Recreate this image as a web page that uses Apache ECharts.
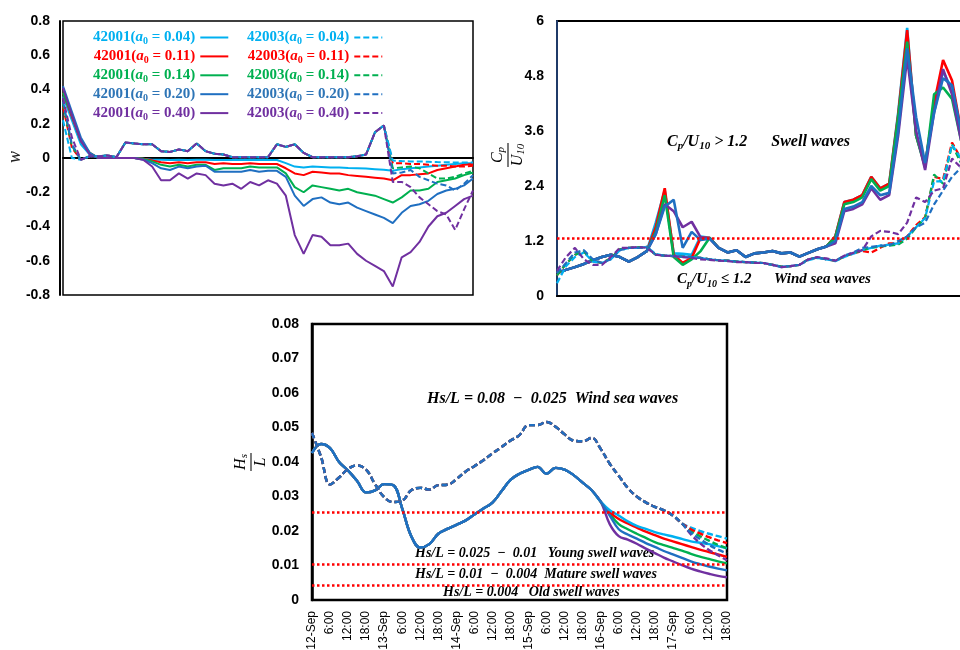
<!DOCTYPE html>
<html><head><meta charset="utf-8">
<script src="https://cdn.jsdelivr.net/npm/echarts@6/dist/echarts.min.js"></script>
<style>html,body{margin:0;padding:0;background:#fff}#c{width:960px;height:650px}</style>
</head><body><div id="c"></div>
<script>
// ---------- categories (3-hourly, 12-Sep 0:00 .. 17-Sep 18:00) ----------
const days = ['12-Sep','13-Sep','14-Sep','15-Sep','16-Sep','17-Sep'];
const hourTicks = ['3:00','6:00','9:00','12:00','15:00','18:00','21:00'];
const cats = [];
days.forEach((d, i) => { cats.push(d); (i < days.length - 1 ? hourTicks : hourTicks.slice(0, 6)).forEach(h => cats.push(h)); });

const alphas = ['0.04','0.11','0.14','0.20','0.40'];
const lineColors = ['#00B0F0','#FF0000','#00B050','#1F6FC1','#7030A0'];
const textColors = ['#00B0F0','#FF0000','#00B050','#2E75B6','#7030A0'];

// ---------- Panel A : w ----------
const wSolid004 = [0.36,0.22,0.08,0.02,0,0,0,0,0,-0.005,-0.01,-0.01,-0.012,-0.01,-0.012,-0.01,-0.01,-0.012,-0.012,-0.012,-0.012,-0.01,-0.012,-0.012,-0.012,-0.03,-0.05,-0.055,-0.05,-0.052,-0.055,-0.055,-0.058,-0.06,-0.062,-0.065,-0.068,-0.075,-0.065,-0.06,-0.055,-0.05,-0.045,-0.04,-0.035,-0.03,-0.03];
const wSolid011 = [0.38,0.24,0.10,0.03,0,0,0,0,0,-0.005,-0.015,-0.025,-0.03,-0.025,-0.03,-0.025,-0.025,-0.035,-0.03,-0.035,-0.035,-0.03,-0.035,-0.035,-0.035,-0.06,-0.09,-0.10,-0.08,-0.085,-0.09,-0.09,-0.10,-0.105,-0.11,-0.115,-0.12,-0.13,-0.10,-0.10,-0.095,-0.09,-0.07,-0.06,-0.05,-0.04,-0.035];
const wSolid014 = [0.38,0.25,0.10,0.03,0,0,0,0,0,-0.005,-0.02,-0.04,-0.05,-0.04,-0.05,-0.04,-0.04,-0.07,-0.06,-0.06,-0.06,-0.05,-0.055,-0.055,-0.055,-0.09,-0.17,-0.20,-0.16,-0.17,-0.18,-0.19,-0.18,-0.20,-0.21,-0.22,-0.24,-0.26,-0.23,-0.19,-0.19,-0.18,-0.14,-0.13,-0.12,-0.10,-0.085];
const wSolid020 = [0.42,0.27,0.12,0.03,0,0,0,0,0,-0.01,-0.03,-0.06,-0.07,-0.05,-0.06,-0.05,-0.045,-0.08,-0.08,-0.08,-0.08,-0.07,-0.08,-0.075,-0.075,-0.11,-0.22,-0.28,-0.24,-0.23,-0.26,-0.27,-0.26,-0.29,-0.31,-0.33,-0.35,-0.38,-0.32,-0.28,-0.27,-0.25,-0.21,-0.19,-0.18,-0.16,-0.12];
const wSolid040 = [0.41,0.25,0.10,0.02,0,0,0,0,0,-0.01,-0.05,-0.13,-0.13,-0.09,-0.12,-0.09,-0.10,-0.15,-0.16,-0.15,-0.18,-0.14,-0.16,-0.13,-0.15,-0.22,-0.45,-0.56,-0.45,-0.46,-0.51,-0.51,-0.50,-0.56,-0.60,-0.63,-0.66,-0.75,-0.58,-0.55,-0.49,-0.40,-0.34,-0.32,-0.28,-0.24,-0.22];
const wDashShared = [-0.01,0.01,0.01,0.015,0.005,0.09,0.085,0.08,0.08,0.04,0.035,0.05,0.04,0.085,0.04,0.025,0.02,0.005,0.005,0.005,0.005,0.005,0.08,0.065,0.08,0.03,0.005,0.005,0.005,0.005,0.005,0.01,0.02,0.15,0.19];
const wDash004 = [0.22,0.0,...wDashShared,-0.015,-0.018,-0.02,-0.02,-0.022,-0.024,-0.025,-0.026,-0.027,-0.027];
const wDash011 = [0.30,0.06,...wDashShared,-0.03,-0.03,-0.035,-0.035,-0.04,-0.045,-0.045,-0.05,-0.05,-0.045];
const wDash014 = [0.32,0.07,...wDashShared,-0.06,-0.055,-0.05,-0.06,-0.09,-0.12,-0.12,-0.11,-0.09,-0.075];
const wDash020 = [0.33,0.08,...wDashShared,-0.09,-0.085,-0.07,-0.11,-0.13,-0.15,-0.16,-0.19,-0.15,-0.10];
const wDash040 = [0.35,0.12,...wDashShared,-0.14,-0.14,-0.17,-0.23,-0.27,-0.31,-0.33,-0.42,-0.30,-0.19];

// ---------- Panel B : Cp/U10 ----------
const cpHead = [0.5,0.57,0.63,0.70,0.78,0.85,0.90,0.85,0.75,0.85,0.98];
const cpMid = [1.05,0.95,1.0,0.85,0.93,0.95,0.98,0.93,0.95,0.86,0.94,1.02,1.08];
const cpSolid004 = [...cpHead,1.6,2.3,0.93,0.92,0.9,1.3,1.27,...cpMid,1.3,2.05,2.1,2.2,2.6,2.35,2.45,4.0,5.85,3.5,2.85,4.1,4.9,4.5,3.5,3.0];
const cpSolid011 = [...cpHead,1.5,2.35,0.9,0.72,0.83,1.27,1.27,...cpMid,1.3,2.05,2.1,2.2,2.6,2.35,2.45,3.95,5.8,3.5,2.85,4.2,5.15,4.7,3.6,3.1];
const cpSolid014 = [...cpHead,1.4,2.2,0.85,0.68,0.8,0.98,1.27,...cpMid,1.28,2.0,2.05,2.15,2.55,2.3,2.4,3.9,5.55,3.5,2.8,4.4,4.55,4.3,3.4,2.9];
const cpSolid020 = [...cpHead,1.35,1.95,2.1,1.05,1.4,1.22,1.25,...cpMid,1.2,1.9,1.95,2.05,2.4,2.2,2.25,3.6,5.4,3.9,2.9,4.0,4.75,4.6,3.6,3.0];
const cpSolid040 = [...cpHead,1.35,2.0,1.85,1.5,1.62,1.28,1.25,...cpMid,1.15,1.85,1.9,2.0,2.35,2.1,2.2,3.5,5.2,3.6,2.75,4.0,4.95,4.4,3.4,2.9];
const cpDash004 = [0.28,0.65,0.85,0.95,0.75,0.72,0.8,1.0,1.05,1.05,1.07,0.92,0.88,0.87,0.86,0.85,0.83,0.8,0.78,0.77,0.75,0.74,0.73,0.72,0.68,0.64,0.65,0.68,0.78,0.83,0.8,0.76,0.85,0.92,1.0,1.05,1.1,1.12,1.15,1.3,1.5,1.7,2.5,2.5,3.3,3.0,2.9];
const cpDash011 = [0.45,0.7,0.9,0.97,0.76,0.72,0.82,1.02,1.05,1.06,1.07,0.9,0.88,0.87,0.86,0.85,0.83,0.8,0.78,0.77,0.75,0.74,0.73,0.72,0.68,0.64,0.65,0.68,0.8,0.84,0.8,0.77,0.86,0.93,0.98,0.95,1.05,1.15,1.15,1.3,1.55,1.72,2.6,2.55,3.35,3.0,2.9];
const cpDash014 = [0.45,0.7,0.9,0.97,0.76,0.72,0.82,1.02,1.05,1.06,1.07,0.9,0.88,0.87,0.86,0.85,0.83,0.8,0.78,0.77,0.75,0.74,0.73,0.72,0.68,0.64,0.65,0.68,0.8,0.84,0.8,0.77,0.86,0.93,1.0,1.05,1.08,1.1,1.12,1.25,1.5,1.7,2.65,2.45,3.3,2.9,2.8];
const cpDash020 = [0.5,0.72,0.95,1.0,0.8,0.72,0.8,1.0,1.05,1.05,1.06,0.9,0.88,0.87,0.86,0.85,0.83,0.8,0.78,0.77,0.75,0.74,0.73,0.72,0.68,0.63,0.65,0.68,0.8,0.84,0.8,0.77,0.88,0.95,1.05,1.07,1.1,1.1,1.2,1.3,1.5,1.6,2.0,2.3,2.6,2.8,2.9];
const cpDash040 = [0.55,0.85,1.05,0.8,0.68,0.68,0.85,1.05,1.05,1.07,1.05,0.9,0.88,0.87,0.85,0.83,0.8,0.79,0.77,0.76,0.74,0.74,0.72,0.72,0.68,0.63,0.65,0.68,0.8,0.85,0.82,0.77,0.88,0.94,1.0,1.3,1.42,1.4,1.35,1.6,2.15,2.05,2.3,2.35,3.0,2.8,2.7];
const cpThreshold = 1.25;

// ---------- Panel C : Hs/L ----------
const hsSolidShared = [0.0426,0.0452,0.0440,0.0400,0.0375,0.0345,0.0312,0.0318,0.0336,0.0333,0.0265,0.0185,0.0152,0.0162,0.0192,0.0206,0.0218,0.0230,0.0248,0.0265,0.0282,0.0315,0.0348,0.0366,0.0377,0.0386,0.0366,0.0383,0.0378,0.0362,0.0340,0.0318,0.0285];
const hsSolid004 = [...hsSolidShared,0.0260,0.0245,0.0228,0.0215,0.0206,0.0197,0.0190,0.0184,0.0177,0.0170,0.0166,0.0162,0.0156,0.0150];
const hsSolid011 = [...hsSolidShared,0.0255,0.0235,0.0222,0.0210,0.0198,0.0188,0.0178,0.0170,0.0162,0.0154,0.0146,0.0139,0.0132,0.0125];
const hsSolid014 = [...hsSolidShared,0.0250,0.0220,0.0205,0.0192,0.0180,0.0168,0.0159,0.0151,0.0143,0.0134,0.0126,0.0119,0.0112,0.0106];
const hsSolid020 = [...hsSolidShared,0.0245,0.0205,0.0190,0.0178,0.0165,0.0154,0.0142,0.0132,0.0122,0.0112,0.0104,0.0097,0.0091,0.0086];
const hsSolid040 = [...hsSolidShared,0.0220,0.0185,0.0175,0.0163,0.0149,0.0136,0.0123,0.0112,0.0101,0.0091,0.0083,0.0076,0.0070,0.0066];
const hsDashShared = [0.0484,0.0415,0.0335,0.0355,0.0380,0.0390,0.0378,0.0335,0.0298,0.0284,0.0288,0.0318,0.0325,0.0320,0.0333,0.0334,0.0350,0.0372,0.0388,0.0405,0.0425,0.0443,0.0462,0.0478,0.0507,0.0507,0.0516,0.0502,0.0480,0.0462,0.0460,0.0470,0.0438,0.0395,0.0360,0.0325,0.0300,0.0283,0.0270,0.0260,0.0245,0.0222];
const hsDash004 = [...hsDashShared,0.0210,0.0200,0.0192,0.0185,0.0178];
const hsDash011 = [...hsDashShared,0.0205,0.0193,0.0182,0.0173,0.0165];
const hsDash014 = [...hsDashShared,0.0200,0.0185,0.0172,0.0160,0.0150];
const hsDash020 = [...hsDashShared,0.0195,0.0177,0.0160,0.0146,0.0135];
const hsDash040 = [...hsDashShared,0.0190,0.0165,0.0145,0.0130,0.0115];
const hsThresholds = [0.0255, 0.0104, 0.0043];

// ---------- build ----------
const nameOf = (st, k) => st + '(a0 = ' + alphas[k] + ')';
const SERIF = '"Liberation Serif","DejaVu Serif",serif';
const SANS = '"Liberation Sans",Arial,sans-serif';
const NAVY = '#1F3864';
const series = [];
function addLine(st, k, data, gi, width, dashed, smooth, extra) {
  series.push(Object.assign({
    type: 'line', name: nameOf(st, k), xAxisIndex: gi, yAxisIndex: gi, data: data,
    symbol: 'none', smooth: smooth, animation: false, silent: true,
    lineStyle: { color: lineColors[k], width: width, type: dashed ? [6, 3] : 'solid' },
    itemStyle: { color: lineColors[k] }
  }, extra || {}));
}
const wS = [wSolid004, wSolid011, wSolid014, wSolid020, wSolid040];
const wD = [wDash004, wDash011, wDash014, wDash020, wDash040];
const cS = [cpSolid004, cpSolid011, cpSolid014, cpSolid020, cpSolid040];
const cD = [cpDash004, cpDash011, cpDash014, cpDash020, cpDash040];
const hS = [hsSolid004, hsSolid011, hsSolid014, hsSolid020, hsSolid040];
const hD = [hsDash004, hsDash011, hsDash014, hsDash020, hsDash040];

const redDots = { color: '#FF0000', type: [2.5, 2.5], width: 2.5 };
const mkLine = (vals) => ({ silent: true, symbol: 'none', precision: 6, label: { show: false }, lineStyle: redDots,
  emphasis: { disabled: true }, data: vals.map(v => ({ yAxis: v })) });

// Panel A
[0,1,2,3,4].forEach(k => addLine('42001', k, wS[k], 0, 2, false, false));
[1,2,3,0,4].forEach(k => addLine('42003', k, wD[k], 0, 2, true, false));
// Panel B
[0,1,2,4,3].forEach((k, i) => addLine('42001', k, cS[k], 1, 2.6, false, false, i === 0 ? { markLine: mkLine([cpThreshold]) } : null));
[1,2,0,3,4].forEach(k => addLine('42003', k, cD[k], 1, 2.2, true, false));
// Panel C
[4,2,1,0,3].forEach((k, i) => addLine('42001', k, hS[k], 2, 2.4, false, 0.4, i === 0 ? { markLine: mkLine(hsThresholds) } : null));
[4,2,0,1,3].forEach(k => addLine('42003', k, hD[k], 2, 2.4, true, 0.4));

function legendData(st) {
  return [0,1,2,3,4].map(k => ({ name: nameOf(st, k), textStyle: { color: textColors[k] } }));
}
const legendRich = {
  t: { fontFamily: SERIF, fontWeight: 'bold', fontSize: 15, lineHeight: 18 },
  a: { fontFamily: SERIF, fontWeight: 'bold', fontStyle: 'italic', fontSize: 15, lineHeight: 18 },
  z: { fontFamily: SERIF, fontWeight: 'bold', fontSize: 10, lineHeight: 11, verticalAlign: 'bottom' }
};
const legendFmt = n => { const p = n.split('a0'); return '{t|' + p[0] + '}{a|a}{z|0}{t|' + p[1] + '}'; };
function legendCfg(st, left) {
  return { orient: 'vertical', left: left, top: 30, padding: 0, align: 'right', itemWidth: 28, itemHeight: 14, itemGap: 2.4,
    selectedMode: false, data: legendData(st), formatter: legendFmt,
    itemStyle: { opacity: 0, color: 'rgba(0,0,0,0)', borderWidth: 0 },
    textStyle: { fontFamily: SERIF, fontWeight: 'bold', fontSize: 15, rich: legendRich } };
}

const yLab = (w) => ({ color: '#000', fontFamily: SANS, fontWeight: w, fontSize: 14 });
const hiddenX = (gi) => ({ type: 'category', gridIndex: gi, data: cats, boundaryGap: false,
  axisLabel: { show: false }, axisTick: { show: false }, axisLine: { show: true, lineStyle: { color: '#000', width: 2 } }, splitLine: { show: false } });

const annRich = (size) => ({
  m: { fontFamily: SERIF, fontWeight: 'bold', fontStyle: 'italic', fontSize: size, color: NAVY, lineHeight: 20 },
  s: { fontFamily: SERIF, fontWeight: 'bold', fontStyle: 'italic', fontSize: Math.round(size * 0.68), color: NAVY, lineHeight: 12, verticalAlign: 'bottom' }
});
function ann(x, y, text, size) {
  return { type: 'text', x: x, y: y, silent: true, style: { text: text, align: 'left', verticalAlign: 'middle', rich: annRich(size) } };
}
const fracRich = {
  m: { fontFamily: SERIF, fontStyle: 'italic', fontSize: 16, color: '#222', lineHeight: 18 },
  s: { fontFamily: SERIF, fontStyle: 'italic', fontSize: 11, color: '#222', lineHeight: 10, verticalAlign: 'bottom' }
};
function frac(cx, cy, num, den, len) {
  return { type: 'group', x: cx, y: cy, rotation: Math.PI / 2, silent: true, children: [
    { type: 'text', x: 0, y: -1, style: { text: num, align: 'center', verticalAlign: 'bottom', rich: fracRich } },
    { type: 'line', shape: { x1: -len / 2, y1: 0, x2: len / 2, y2: 0 }, style: { stroke: '#222', lineWidth: 1.2 } },
    { type: 'text', x: 0, y: 1, style: { text: den, align: 'center', verticalAlign: 'top', rich: fracRich } }
  ] };
}

const gridBase = { show: true, borderColor: '#000', backgroundColor: 'transparent', containLabel: false, outerBoundsMode: 'none' };
const option = {
  backgroundColor: '#fff',
  animation: false,
  grid: [
    Object.assign({ left: 63, top: 21, width: 410, height: 274, borderWidth: 1.5 }, gridBase),
    Object.assign({ left: 557, top: 21, width: 413, height: 275, borderWidth: 2 }, gridBase),
    Object.assign({ left: 312, top: 324, width: 415, height: 276, borderWidth: 2.5 }, gridBase)
  ],
  xAxis: [
    hiddenX(0), hiddenX(1),
    { type: 'category', gridIndex: 2, data: cats, boundaryGap: false,
      axisLabel: { interval: 1, rotate: 90, color: '#000', fontFamily: SANS, fontSize: 12, margin: 11 },
      axisTick: { show: false }, axisLine: { show: true, lineStyle: { color: '#000', width: 2 } }, splitLine: { show: false } }
  ],
  yAxis: [
    { type: 'value', gridIndex: 0, min: -0.8, max: 0.8, interval: 0.2, offset: 3,
      axisLabel: Object.assign({ margin: 10 }, yLab('bold')), axisTick: { show: false },
      axisLine: { show: true, lineStyle: { color: '#000', width: 2 } }, splitLine: { show: false } },
    { type: 'value', gridIndex: 1, min: 0, max: 6, interval: 1.2,
      axisLabel: Object.assign({ margin: 13 }, yLab('bold')), axisTick: { show: false },
      axisLine: { show: true, lineStyle: { color: '#1F3A68', width: 2 } }, splitLine: { show: false } },
    { type: 'value', gridIndex: 2, min: 0, max: 0.08, interval: 0.01,
      axisLabel: Object.assign({ margin: 13 }, yLab('bold')), axisTick: { show: false },
      axisLine: { show: true, lineStyle: { color: '#000', width: 2.5 } }, splitLine: { show: false } }
  ],
  legend: [legendCfg('42001', 93), legendCfg('42003', 247)],
  series: series,
  graphic: [
    { type: 'text', x: 15, y: 157, rotation: Math.PI / 2, silent: true,
      style: { text: 'w', fontFamily: SERIF, fontStyle: 'italic', fontSize: 18, fill: '#222', align: 'center', verticalAlign: 'middle' } },
    frac(508, 155, '{m|C}{s|p}', '{m|U}{s|10}', 24),
    frac(251, 462, '{m|H}{s|s}', '{m|L}', 18),
    ann(667, 142, '{m|C}{s|p}{m|/U}{s|10}{m| > 1.2      Swell waves}', 16),
    ann(677, 279, '{m|C}{s|p}{m|/U}{s|10}{m| ≤ 1.2      Wind sea waves}', 15),
    ann(427, 399, '{m|Hs/L = 0.08  −  0.025  Wind sea waves}', 16),
    ann(415, 553, '{m|Hs/L = 0.025  −  0.01   Young swell waves}', 14),
    ann(415, 574, '{m|Hs/L = 0.01  −  0.004  Mature swell waves}', 14),
    ann(443, 592, '{m|Hs/L = 0.004   Old swell waves}', 14)
  ]
};
const chart = echarts.init(document.getElementById('c'), null, { renderer: 'canvas' });
chart.setOption(option);
</script>
</body></html>
